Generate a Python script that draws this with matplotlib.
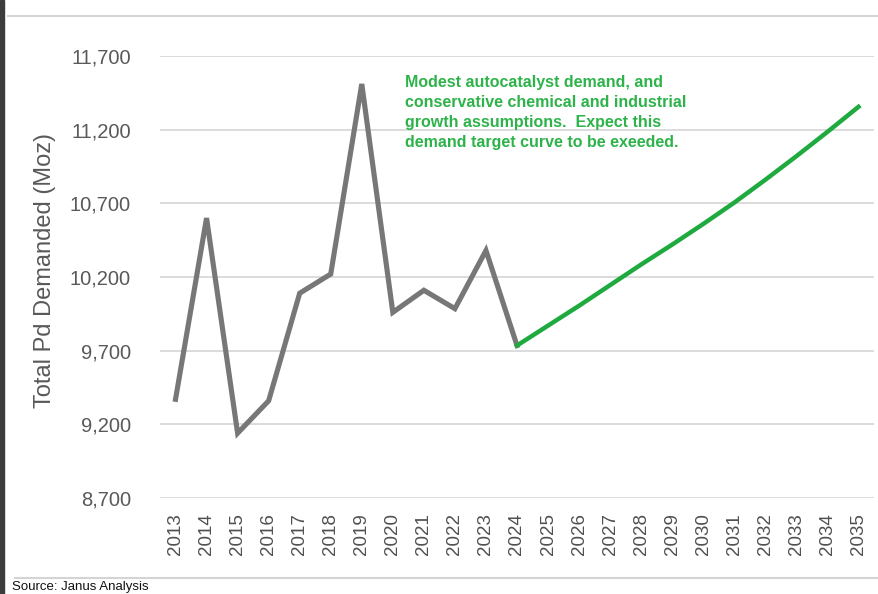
import matplotlib.pyplot as plt
from matplotlib.patches import Rectangle
from matplotlib.lines import Line2D

plt.rcParams['font.family'] = ['Liberation Sans', 'DejaVu Sans']

# total palladium demand, actuals 2013-2024 then target curve 2024-2035
years = [str(y) for y in range(2013, 2036)]
hist_years = years[:12]
hist_demand = [9370, 10600, 9140, 9360, 10090, 10220, 11510, 9960, 10110, 9985, 10380, 9735]
target_years = years[11:]
target_demand = [9735, 9870, 10005, 10145, 10285, 10420, 10560, 10705, 10860, 11020, 11185, 11355]
y_ticks = [8700, 9200, 9700, 10200, 10700, 11200, 11700]

note = ("Modest autocatalyst demand, and\n"
        "conservative chemical and industrial\n"
        "growth assumptions.  Expect this\n"
        "demand target curve to be exeeded.")

W, H = 879, 594
fig = plt.figure(figsize=(W / 100, H / 100), dpi=100)
ax = fig.add_axes([160 / W, 1 - 498 / H, 714 / W, 442 / H])

xh = [years.index(y) for y in hist_years]
xt = [years.index(y) for y in target_years]
ax.plot(xh, hist_demand, color='#777777', lw=3.7, solid_joinstyle='miter', zorder=3)
ax.plot(xt, target_demand, color='#1faa3f', lw=3.2, zorder=4)

ax.set_xlim(-0.5, len(years) - 0.5)
ax.set_ylim(y_ticks[0], y_ticks[-1])
ax.set_xticks(range(len(years)))
ax.set_xticklabels(years, rotation=90, fontsize=13.5, color='#505050')
ax.set_yticks(y_ticks)
ax.set_yticklabels([f"{v:,}" for v in y_ticks], fontsize=14.5, color='#595959')
ax.tick_params(axis='y', length=0, pad=21)
ax.tick_params(axis='x', length=0, pad=11)
ax.grid(axis='y', color='#dcdcdc', lw=1.4)
ax.set_axisbelow(True)
for s in ax.spines.values():
    s.set_visible(False)

fig.text(45 / W, 1 - 270 / H, "Total Pd Demanded (Moz)", rotation=90,
         ha='center', va='center', fontsize=17, color='#595959')

ax.text(0.343, 0.958, note, transform=ax.transAxes, ha='left', va='top',
        fontsize=11.5, fontweight='bold', color='#2db34a', linespacing=1.42)

# page furniture: separators, left border, source line
fig.add_artist(Line2D([8 / W, 1], [1 - 16 / H] * 2, color='#d4d4d4', lw=1.5))
fig.add_artist(Line2D([15 / W, 1], [1 - 578 / H] * 2, color='#d4d4d4', lw=1.5))
fig.add_artist(Rectangle((0, 0), 4 / W, 1, color='#3c3c3c', transform=fig.transFigure))
fig.text(12 / W, 1 - 593 / H, "Source: Janus Analysis", ha='left', va='bottom',
         fontsize=9.5, color='#111111')

fig.savefig('out.png', dpi=100)
